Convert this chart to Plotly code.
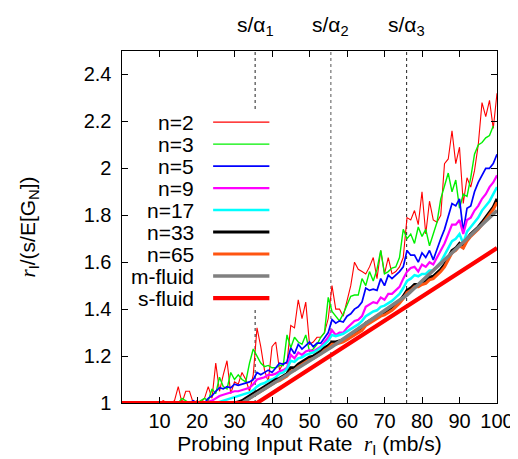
import plotly.graph_objects as go

# ---------------- data ----------------
x_rate = list(range(0, 101))

n2 = [1.0]*10 + [
    1.0, 1.01, 1.0, 1.0, 1.01, 1.07, 1.0, 1.05, 1.05, 1.0,
    1.01, 1.0, 1.02, 1.07, 1.02, 1.17, 1.05, 1.12, 1.18, 1.04,
    1.09, 1.08, 1.13, 1.1, 1.05, 1.12, 1.32, 1.24, 1.14, 1.09,
    1.24, 1.26, 1.14, 1.17, 1.17, 1.33, 1.32, 1.44, 1.36, 1.43,
    1.25, 1.26, 1.28, 1.28, 1.3, 1.36, 1.5, 1.4, 1.4, 1.37,
    1.43, 1.5, 1.6, 1.57, 1.56, 1.55, 1.58, 1.62, 1.53, 1.65,
    1.55, 1.62, 1.55, 1.56, 1.58, 1.62, 1.79, 1.78, 1.82, 1.76,
    1.9, 1.72, 1.86, 1.78, 1.77, 1.8, 2.02, 2.04, 2.16, 2.02,
    2.09, 1.85, 1.96, 1.92, 1.99, 2.1, 2.28, 2.22, 2.29, 2.17, 2.32]

n3 = [1.0]*15 + [
    1.0, 1.02, 1.01, 1.0, 1.0, 1.0, 1.01, 1.02, 1.01, 1.06,
    1.04, 1.11, 1.07, 1.06, 1.13, 1.1, 1.12, 1.1, 1.09, 1.17,
    1.23, 1.2, 1.17, 1.155, 1.16, 1.15, 1.15, 1.16, 1.16, 1.29,
    1.235, 1.28, 1.26, 1.25, 1.29, 1.22, 1.23, 1.25, 1.28, 1.3,
    1.45, 1.39, 1.37, 1.35, 1.38, 1.42, 1.455, 1.46, 1.46, 1.53,
    1.5, 1.56, 1.52, 1.57, 1.65, 1.55, 1.56, 1.575, 1.58, 1.62,
    1.74, 1.7, 1.72, 1.68, 1.75, 1.71, 1.74, 1.67, 1.72, 1.77,
    1.87, 1.93, 1.98, 1.9, 1.95, 1.83, 1.89, 1.88, 1.96, 2.06,
    2.1, 2.11, 2.13, 2.14, 2.18]

n5 = [1.0]*19 + [
    1.01, 1.0, 1.0, 1.0, 1.02, 1.03, 1.05, 1.065, 1.06, 1.07,
    1.065, 1.08, 1.075, 1.08, 1.085, 1.09, 1.1, 1.13, 1.12, 1.13,
    1.14, 1.13, 1.15, 1.17, 1.165, 1.175, 1.235, 1.21, 1.25, 1.23,
    1.245, 1.26, 1.24, 1.255, 1.255, 1.275, 1.3, 1.355, 1.34, 1.35,
    1.345, 1.37, 1.38, 1.4, 1.41, 1.43, 1.49, 1.48, 1.485, 1.48,
    1.53, 1.5, 1.545, 1.53, 1.545, 1.56, 1.58, 1.65, 1.63, 1.63,
    1.6, 1.64, 1.62, 1.65, 1.61, 1.66, 1.7, 1.74, 1.8, 1.85,
    1.84, 1.87, 1.73, 1.83, 1.84, 1.9, 1.94, 1.97, 2.0, 2.0,
    2.02, 2.06]

n9 = [1.0]*23 + [
    1.005, 1.01, 1.02, 1.03, 1.035, 1.04, 1.045, 1.05, 1.05, 1.055,
    1.06, 1.065, 1.08, 1.1, 1.105, 1.11, 1.12, 1.12, 1.125, 1.135,
    1.14, 1.15, 1.205, 1.19, 1.215, 1.205, 1.22, 1.225, 1.22, 1.23,
    1.24, 1.26, 1.28, 1.31, 1.29, 1.3, 1.3, 1.32, 1.335, 1.35,
    1.355, 1.37, 1.41, 1.42, 1.43, 1.425, 1.45, 1.44, 1.465, 1.465,
    1.48, 1.495, 1.53, 1.56, 1.575, 1.58, 1.56, 1.59, 1.58, 1.6,
    1.59, 1.62, 1.65, 1.68, 1.72, 1.76, 1.76, 1.78, 1.72, 1.78,
    1.79, 1.82, 1.84, 1.87, 1.89, 1.92, 1.94, 1.97]

n17 = [1.0]*26 + [
    1.005, 1.01, 1.015, 1.02, 1.025, 1.03, 1.035, 1.04, 1.045, 1.055,
    1.07, 1.08, 1.085, 1.095, 1.1, 1.11, 1.125, 1.13, 1.145, 1.18,
    1.175, 1.19, 1.195, 1.205, 1.21, 1.215, 1.225, 1.235, 1.25, 1.265,
    1.29, 1.285, 1.29, 1.295, 1.305, 1.315, 1.325, 1.335, 1.35, 1.37,
    1.38, 1.39, 1.395, 1.41, 1.415, 1.425, 1.435, 1.45, 1.465, 1.49,
    1.52, 1.53, 1.545, 1.54, 1.55, 1.55, 1.565, 1.565, 1.585, 1.6,
    1.63, 1.66, 1.69, 1.7, 1.72, 1.68, 1.73, 1.75, 1.77, 1.79,
    1.82, 1.84, 1.86, 1.89, 1.92]

n33 = [1.0]*31 + [
    1.005, 1.01, 1.02, 1.03, 1.04, 1.05, 1.06, 1.07, 1.08, 1.09,
    1.1, 1.105, 1.115, 1.125, 1.15, 1.15, 1.165, 1.175, 1.185, 1.195,
    1.2, 1.21, 1.22, 1.235, 1.245, 1.26, 1.26, 1.265, 1.27, 1.28,
    1.29, 1.3, 1.31, 1.32, 1.34, 1.35, 1.36, 1.37, 1.38, 1.385,
    1.395, 1.405, 1.42, 1.435, 1.455, 1.48, 1.49, 1.505, 1.505, 1.515,
    1.52, 1.535, 1.54, 1.555, 1.57, 1.59, 1.62, 1.65, 1.66, 1.68,
    1.665, 1.7, 1.72, 1.735, 1.75, 1.77, 1.79, 1.81, 1.835, 1.87]

n65 = [1.0]*33 + [
    1.01, 1.02, 1.03, 1.04, 1.05, 1.06, 1.07, 1.08, 1.09, 1.095,
    1.105, 1.115, 1.135, 1.14, 1.155, 1.165, 1.175, 1.185, 1.19, 1.2,
    1.21, 1.225, 1.235, 1.25, 1.25, 1.255, 1.26, 1.27, 1.28, 1.29,
    1.3, 1.31, 1.33, 1.34, 1.35, 1.36, 1.37, 1.375, 1.385, 1.395,
    1.41, 1.425, 1.445, 1.47, 1.48, 1.495, 1.495, 1.505, 1.51, 1.525,
    1.53, 1.545, 1.56, 1.58, 1.61, 1.64, 1.65, 1.67, 1.66, 1.69,
    1.71, 1.725, 1.74, 1.76, 1.78, 1.8, 1.825, 1.855]

m_fluid_x = [0, 32, 56, 76, 100]
m_fluid_y = [1.0, 1.0, 1.24, 1.46, 1.82]

s_fluid_x = [0, 36, 100]
s_fluid_y = [1.0, 1.0, 1.66]

alpha_x = [35.5, 55.7, 75.9]
alpha_labels = ["s/α<sub>1</sub>", "s/α<sub>2</sub>", "s/α<sub>3</sub>"]

x_ticks = [10, 20, 30, 40, 50, 60, 70, 80, 90, 100]
y_ticks = [1, 1.2, 1.4, 1.6, 1.8, 2, 2.2, 2.4]
y_ticktext = ["1", "1.2", "1.4", "1.6", "1.8", "2", "2.2", "2.4"]

# ---------------- figure ----------------
FONT = "Liberation Sans, Arial, Helvetica, sans-serif"

series = [
    ("n=2", x_rate, n2, "#ff0000", 1.1),
    ("n=3", x_rate, n3, "#00f000", 1.4),
    ("n=5", x_rate, n5, "#0000ff", 1.7),
    ("n=9", x_rate, n9, "#ff00ff", 2.2),
    ("n=17", x_rate, n17, "#00ffff", 2.5),
    ("n=33", x_rate, n33, "#000000", 3.0),
    ("n=65", x_rate, n65, "#ff5511", 3.0),
    ("m-fluid", m_fluid_x, m_fluid_y, "#808080", 3.5),
    ("s-fluid", s_fluid_x, s_fluid_y, "#ff0000", 4.2),
]

fig = go.Figure()
for name, xs, ys, col, w in series:
    fig.add_trace(go.Scatter(x=xs, y=ys, mode="lines", name=name,
                             line=dict(color=col, width=w), showlegend=False))

shapes = []
annotations = []
for i, xv in enumerate(alpha_x):
    shapes.append(dict(type="line", xref="x", yref="paper", x0=xv, x1=xv, y0=0, y1=1,
                       line=dict(color="#222222" if i != 1 else "#555555", width=1, dash="dot"),
                       layer="below"))
    annotations.append(dict(x=xv, y=1, xref="x", yref="paper", text=alpha_labels[i],
                            showarrow=False, yanchor="bottom", yshift=10,
                            font=dict(size=21, color="black", family=FONT)))

# legend box (opaque, gnuplot style: label then sample)
shapes.append(dict(type="rect", xref="paper", yref="paper", x0=0.01, x1=0.417, y0=0.264, y1=0.832,
                   fillcolor="white", line=dict(width=0), layer="below"))
row0 = 0.798
dy = 0.0625
for k, (name, xs, ys, col, w) in enumerate(series):
    yy = row0 - k * dy
    annotations.append(dict(x=0.197, y=yy, xref="paper", yref="paper", text=name,
                            showarrow=False, xanchor="right", yanchor="middle",
                            font=dict(size=21, color="black", family=FONT)))
    shapes.append(dict(type="line", xref="paper", yref="paper", x0=0.243, x1=0.393, y0=yy, y1=yy,
                       line=dict(color=col, width=w), layer="above"))

fig.update_layout(
    width=518, height=459,
    margin=dict(l=114, r=25, t=43, b=64),
    paper_bgcolor="white", plot_bgcolor="white",
    font=dict(family=FONT, size=20, color="black"),
    shapes=shapes, annotations=annotations,
    showlegend=False,
)
fig.update_xaxes(range=[0, 100], tickvals=x_ticks, ticks="inside", ticklen=6, tickcolor="black",
                 showline=True, linecolor="black", linewidth=1, mirror="allticks",
                 showgrid=False, zeroline=False,
                 tickfont=dict(size=20),
                 title=dict(text="Probing Input Rate  <span style=\"font-family:Liberation Serif\"><i>r</i></span><sub>I</sub> (mb/s)",
                            font=dict(size=21), standoff=4))
fig.update_yaxes(range=[1, 2.5], tickvals=y_ticks,
                 ticktext=[t + "\u00a0" for t in y_ticktext], ticks="inside", ticklen=6,
                 tickcolor="black", showline=True, linecolor="black", linewidth=1, mirror="allticks",
                 showgrid=False, zeroline=False,
                 tickfont=dict(size=20),
                 title=dict(text="<span style=\"font-family:Liberation Serif\"><i>r</i></span><sub>I</sub>/(s/E[G<sub>N</sub>])",
                            font=dict(size=21), standoff=42))

fig.write_html("out.html")
